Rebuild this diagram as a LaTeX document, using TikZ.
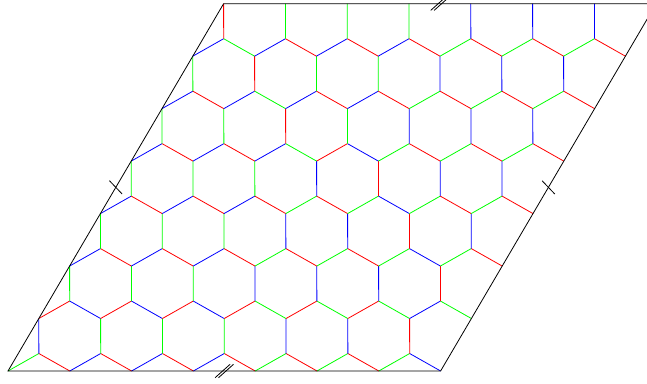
\documentclass[tikz,border=0pt]{standalone}
\usepackage{xcolor}
\usepackage{tikz}
\usetikzlibrary{calc}

\begin{document}
\begin{tikzpicture}[
  x=0.75pt, y=0.75pt,
  bondR/.style={draw=red, line width=0.6pt},
  bondG/.style={draw=green, line width=0.6pt},
  bondB/.style={draw=blue, line width=0.6pt},
  cell/.style={draw=black, line width=0.6pt},
  tick/.style={draw=black, line width=0.6pt}
]
\useasboundingbox (0,0) rectangle (647,383);

\foreach \i in {0,...,7}
  \foreach \j in {0,...,7}
    \coordinate (A-\i-\j) at ({8+61.8*\i+30.8*\j},{12+52.47*\j});
\foreach \i in {0,...,6}
  \foreach \j in {0,...,6}
    \coordinate (B-\i-\j) at ({38.87+61.8*\i+30.8*\j},{29.49+52.47*\j});

\foreach \j/\row in {
  0/{G/R/B,B/R/G,B/R/G,B/R/G,G/R/B,G/R/B,G/B/R},
  1/{R/B/G,R/B/G,R/B/G,R/G/B,R/G/B,R/G/B,B/G/R},
  2/{B/R/G,B/R/G,B/R/G,G/R/B,G/R/B,G/B/R,G/R/B},
  3/{B/R/G,B/R/G,B/R/G,G/R/B,G/B/R,G/R/B,G/R/B},
  4/{B/R/G,B/R/G,B/G/R,R/B/G,G/R/B,G/R/B,G/R/B},
  5/{B/R/G,B/G/R,B/R/G,B/R/G,G/R/B,G/R/B,G/R/B},
  6/{B/G/R,B/R/G,B/R/G,B/R/G,G/R/B,G/R/B,G/R/B}}
  \foreach \colA/\colB/\colC [count=\i from 0] in \row {
    \pgfmathtruncatemacro\ip{\i+1}
    \pgfmathtruncatemacro\jp{\j+1}
    \draw[bond\colA] (A-\i-\j) -- (B-\i-\j);
    \draw[bond\colB] (B-\i-\j) -- (A-\ip-\j);
    \draw[bond\colC] (B-\i-\j) -- (A-\i-\jp);
  }

\draw[cell] (A-0-0) -- (A-7-0) -- (A-7-7) -- (A-0-7) -- cycle;

\coordinate (midL) at ($(A-0-0)!0.5!(A-0-7)$);
\coordinate (midR) at ($(A-7-0)!0.5!(A-7-7)$);
\coordinate (midB) at ($(A-0-0)!0.5!(A-7-0)$);
\coordinate (midT) at ($(A-0-7)!0.5!(A-7-7)$);

\draw[tick] ($(midL)+(-6.35,6.65)$) -- ($(midL)+(6.35,-6.65)$);
\draw[tick] ($(midR)+(-6.35,6.65)$) -- ($(midR)+(6.35,-6.65)$);
\foreach \dx in {-1.7,1.7} {
  \draw[tick] ($(midB)+(\dx-7.5,-6.7)$) -- ($(midB)+(\dx+7.5,6.7)$);
  \draw[tick] ($(midT)+(\dx-7.5,-6.7)$) -- ($(midT)+(\dx+7.5,6.7)$);
}
\end{tikzpicture}
\end{document}
